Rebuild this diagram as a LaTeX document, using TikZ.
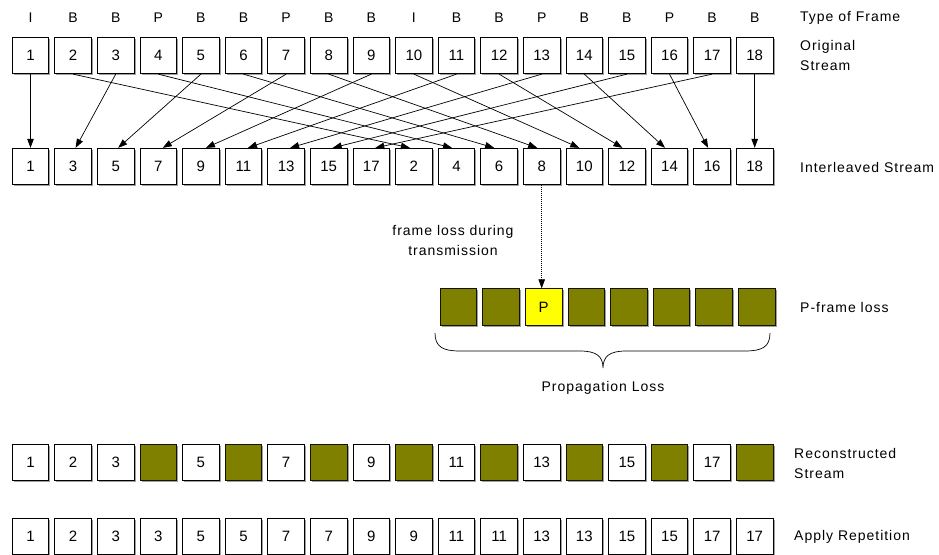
\documentclass[tikz,border=0pt]{standalone}
\usepackage{fontspec}
\setmainfont{Liberation Sans}
\newfontfamily\lsfont{Liberation Sans}[LetterSpace=7]
\usetikzlibrary{shadows,arrows.meta}
\definecolor{olivefill}{HTML}{808000}
\definecolor{shadowgray}{HTML}{A0A0A0}
\definecolor{yellowfill}{HTML}{FFFF00}
\begin{document}
\begin{tikzpicture}[x=1pt,y=-1pt,
  frame/.style={draw, line width=0.8pt, fill=white, minimum size=36.5pt, inner sep=0pt,
    font=\fontsize{15}{17}\selectfont,
    drop shadow={shadow xshift=1.6pt, shadow yshift=-1.6pt, fill=shadowgray, opacity=1}},
  lost/.style={frame, fill=olivefill, draw=black!85!olivefill},
  lostp/.style={frame, fill=yellowfill, draw=black!85!olivefill},
  typel/.style={font=\lsfont\fontsize{14}{16}\selectfont, inner sep=0pt},
  rowlabel/.style={font=\lsfont\fontsize{14}{20}\selectfont, align=left, anchor=west, inner sep=0pt},
  conn/.style={line width=0.7pt, -{Triangle[length=9pt,width=6.5pt]}},
]
\useasboundingbox (0,0) rectangle (939,554);

% original stream
\foreach \i in {1,...,18}{
  \node[frame] (t\i) at ({12+18.5+42.6*(\i-1)},55.5) {\i};
}
% frame types
\foreach \l [count=\i] in {I,B,B,P,B,B,P,B,B,I,B,B,P,B,B,P,B,B}{
  \node[typel] (ty\i) at ({12+18.5+42.6*(\i-1)},18) {\l};
}
% interleaved stream
\foreach \v [count=\i] in {1,3,5,7,9,11,13,15,17,2,4,6,8,10,12,14,16,18}{
  \node[frame] (b\i) at ({12+18.5+42.6*(\i-1)},166.5) {\v};
}
% interleaving connectors: frame/position/offset
\foreach \k/\p/\o in {1/1/0,3/2/2.5,5/3/2.5,7/4/4.5,9/5/5,11/6/4.5,13/7/4,15/8/4,17/9/4,
                      2/10/-4,4/11/-4.5,6/12/-5,8/13/-4.5,10/14/-5,12/15/-4.5,14/16/-4.5,16/17/-4,18/18/0}{
  \draw[conn] (t\k.south) -- ([xshift=\o pt]b\p.north);
}

% P-frame loss row
\foreach \i in {1,...,8}{
  \ifnum\i=3
    \node[lostp] (p\i) at ({440+18.5+42.6*(\i-1)},307) {P};
  \else
    \node[lost] (p\i) at ({440+18.5+42.6*(\i-1)},307) {};
  \fi
}
\coordinate (ptop) at (b13.south |- p3.north);
\draw[line width=0.7pt, dash pattern=on 1pt off 1pt, -{Triangle[length=9pt,width=6.5pt]}] (b13.south) -- (ptop);
\node[font=\lsfont\fontsize{14}{20}\selectfont, align=center, inner sep=0pt] (fl) at (453,240) {frame loss during\\transmission};

% brace
\draw[line width=0.7pt] (435,333) .. controls (435,347) and (443,351) .. (460,351) -- (580,351)
  .. controls (596,351) and (603,356) .. (603,368)
  .. controls (603,356) and (610,351) .. (626,351) -- (745,351)
  .. controls (762,351) and (770,347) .. (770,333);
\node[typel] (pl) at (603,388) {Propagation Loss};

% reconstructed stream
\foreach \i in {1,...,18}{
  \pgfmathtruncatemacro\ev{mod(\i,2)==0 && \i>3 ? 1 : 0}
  \ifnum\ev=1
    \node[lost] (r\i) at ({12+18.5+42.6*(\i-1)},462.5) {};
  \else
    \node[frame] (r\i) at ({12+18.5+42.6*(\i-1)},462.5) {\i};
  \fi
}
% repetition
\foreach \v [count=\i] in {1,2,3,3,5,5,7,7,9,9,11,11,13,13,15,15,17,17}{
  \node[frame] (a\i) at ({12+18.5+42.6*(\i-1)},536.5) {\v};
}

% row labels
\node[rowlabel] (lt) at (800,18) {Type of Frame};
\node[rowlabel] (lo) at (800,55) {Original\\Stream};
\node[rowlabel] (li) at (800,167) {Interleaved Stream};
\node[rowlabel] (lp) at (800,307) {P-frame loss};
\node[rowlabel] (lr) at (794,463) {Reconstructed\\Stream};
\node[rowlabel] (la) at (794,537) {Apply Repetition};
\end{tikzpicture}
\end{document}
